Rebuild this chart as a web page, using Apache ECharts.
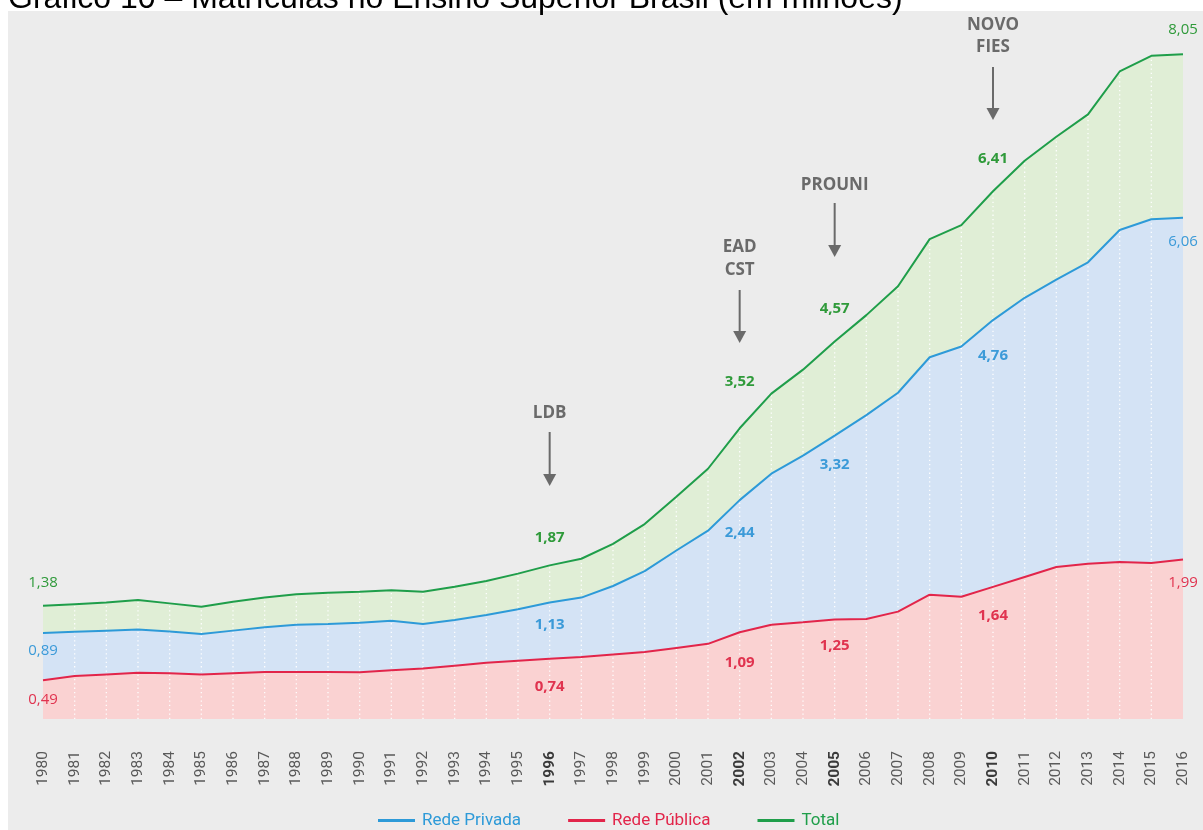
<!DOCTYPE html>
<html>
<head>
<meta charset="utf-8">
<script src="https://cdn.jsdelivr.net/npm/echarts@6/dist/echarts.min.js"></script>
<style>
html,body{margin:0;padding:0;background:#fff;}
#c{width:1203px;height:830px;}
</style>
</head>
<body>
<div id="c"></div>
<script>
// ---- data ----
const years = ['1980','1981','1982','1983','1984','1985','1986','1987','1988','1989','1990','1991','1992','1993','1994','1995','1996','1997','1998','1999','2000','2001','2002','2003','2004','2005','2006','2007','2008','2009','2010','2011','2012','2013','2014','2015','2016'];
const total = [1.37,1.39,1.41,1.44,1.40,1.36,1.42,1.47,1.51,1.53,1.54,1.56,1.54,1.60,1.67,1.76,1.86,1.94,2.12,2.36,2.69,3.03,3.52,3.94,4.23,4.57,4.89,5.24,5.81,5.98,6.39,6.76,7.05,7.32,7.84,8.03,8.05];
const privada = [1.04,1.055,1.07,1.085,1.06,1.03,1.07,1.11,1.14,1.15,1.165,1.19,1.15,1.20,1.26,1.33,1.41,1.47,1.61,1.79,2.04,2.28,2.65,2.97,3.19,3.43,3.68,3.95,4.38,4.51,4.83,5.10,5.32,5.53,5.92,6.05,6.07];
const publica = [0.47,0.52,0.54,0.56,0.555,0.54,0.555,0.57,0.57,0.57,0.565,0.59,0.61,0.645,0.68,0.705,0.73,0.75,0.78,0.81,0.86,0.91,1.05,1.14,1.17,1.205,1.21,1.30,1.505,1.48,1.60,1.72,1.84,1.88,1.90,1.89,1.93];
const labelYears = ['1980','1996','2002','2005','2010','2016'];
const totalLabels = ['1,38','1,87','3,52','4,57','6,41','8,05'];
const privadaLabels = ['0,89','1,13','2,44','3,32','4,76','6,06'];
const publicaLabels = ['0,49','0,74','1,09','1,25','1,64','1,99'];
const boldYears = ['1996','2002','2005','2010'];
const annoYears = ['1996','2002','2005','2010'];
const annoTexts = [['LDB'],['EAD','CST'],['PROUNI'],['NOVO','FIES']];
const legendNames = ['Rede Privada','Rede Pública','Total'];
const titleText = 'Gráfico 10 – Matrículas no Ensino Superior Brasil (em milhões)';

// ---- styles ----
const C = {
  totalLine:'#1f9e4a', totalLabel:'#2f9a3a', totalFill:'#e0eed6',
  privLine:'#2d9ad8', privLabel:'#3b9ad8', privFill:'#d4e3f5',
  pubLine:'#e2254a', pubLabel:'#e0334f', pubFill:'#fad2d2',
  bg:'#ececec', anno:'#6a6a6a'
};
const totalOffsets = [-23,-28,-47,-33,-32,-24];
const privOffsets = [18,22,33,29,36,24];
const pubOffsets = [20,28,30,26,29,23];
// annotation layout (pixel y): text line centers, arrow start, arrow tip
const annoLayout = [
  {ty:[413], a0:432, a1:486},
  {ty:[247,270], a0:290, a1:343},
  {ty:[185], a0:203, a1:257},
  {ty:[25,47], a0:67, a1:120}
];

function labelled(values, labels, offsets, color){
  return values.map((v,i)=>{
    const k = labelYears.indexOf(years[i]);
    if(k<0) return v;
    const edge = (k===0 || k===labelYears.length-1);
    return {value:v, label:{show:true, position:'inside', formatter:labels[k], offset:[0,offsets[k]],
      color:color, fontFamily:'Open Sans', fontSize:15, fontWeight: edge?'normal':'bold'}};
  });
}

const chart = echarts.init(document.getElementById('c'), null, {renderer:'canvas'});

function areaSeries(name, data, fill){
  return {name:name, type:'line', data:data, z:1, symbol:'none', silent:true,
    lineStyle:{width:0}, areaStyle:{color:fill, opacity:1}, itemStyle:{color:fill}};
}
function lineSeries(name, data, color){
  return {name:name, type:'line', data:data, z:3, symbol:'circle', symbolSize:0, showSymbol:true, showAllSymbol:true,
    clip:false, silent:true, color:color, itemStyle:{color:color}, lineStyle:{color:color, width:2}};
}

const dotData = total.map((v,i)=>[i,v]).filter(d=>d[0]>0 && d[0]<years.length-1);

const option = {
  backgroundColor:'#fff',
  animation:false,
  grid:{left:43, right:20, top:50, bottom:111, containLabel:false},
  xAxis:{type:'category', data:years, boundaryGap:false,
    axisLine:{show:false}, axisTick:{show:false}, splitLine:{show:false},
    axisLabel:{interval:0, rotate:90, margin:32, fontFamily:'Roboto', fontSize:15.5, color:'#5a5a5a',
      formatter:v=> boldYears.includes(v) ? '{b|'+v+'}' : v,
      rich:{b:{fontFamily:'Roboto', fontSize:15.5, fontWeight:'bold', color:'#3a3a3a'}}}},
  yAxis:{type:'value', min:0, max:8.1, show:false, splitLine:{show:false}},
  legend:{data:[
      {name:legendNames[0], textStyle:{color:C.privLine}},
      {name:legendNames[1], textStyle:{color:C.pubLine}},
      {name:legendNames[2], textStyle:{color:C.totalLine}}],
    left:373, top:807, icon:'rect', itemWidth:37, itemHeight:3, itemGap:47,
    textStyle:{fontFamily:'Roboto', fontSize:17, padding:[0,0,0,2]}, selectedMode:false},
  series:[
    lineSeries(legendNames[0], labelled(privada, privadaLabels, privOffsets, C.privLabel), C.privLine),
    lineSeries(legendNames[1], labelled(publica, publicaLabels, pubOffsets, C.pubLabel), C.pubLine),
    lineSeries(legendNames[2], labelled(total, totalLabels, totalOffsets, C.totalLabel), C.totalLine),
    areaSeries('_areaTotal', total, C.totalFill),
    areaSeries('_areaPriv', privada, C.privFill),
    areaSeries('_areaPub', publica, C.pubFill),
    {name:'_dots', type:'custom', z:2, silent:true, data:dotData,
      renderItem:(params, api)=>{
        const p0 = api.coord([api.value(0), 0]);
        const p1 = api.coord([api.value(0), api.value(1)]);
        return {type:'line', shape:{x1:p0[0], y1:p0[1], x2:p1[0], y2:p1[1]},
          style:{stroke:'#ffffff', lineWidth:1.3, lineDash:[1.3,3], opacity:0.95}};
      }}
  ],
  graphic:[
    {type:'rect', z:-10, silent:true, shape:{x:8, y:11, width:1195, height:819}, style:{fill:C.bg}},
    {type:'text', z:10, silent:true, x:8, y:-0.5, style:{text:titleText, font:'32px "Liberation Sans", Arial, sans-serif', fill:'#000', verticalAlign:'middle'}}
  ]
};
chart.setOption(option);

// annotations positioned on the category axis
const annoGraphics = [];
annoYears.forEach((yr, k)=>{
  const x = chart.convertToPixel({xAxisIndex:0}, yr);
  const L = annoLayout[k];
  annoTexts[k].forEach((t, j)=>{
    annoGraphics.push({type:'text', z:10, silent:true, x:x, y:L.ty[j],
      style:{text:t, font:'bold 17px "Open Sans", sans-serif', fill:C.anno, align:'center', verticalAlign:'middle'}});
  });
  annoGraphics.push({type:'line', z:10, silent:true, shape:{x1:x, y1:L.a0, x2:x, y2:L.a1-10},
    style:{stroke:C.anno, lineWidth:2}});
  annoGraphics.push({type:'polygon', z:10, silent:true, shape:{points:[[x-6.5,L.a1-12],[x+6.5,L.a1-12],[x,L.a1]]},
    style:{fill:C.anno}});
});
chart.setOption({graphic: option.graphic.concat(annoGraphics)});
</script>
</body>
</html>
